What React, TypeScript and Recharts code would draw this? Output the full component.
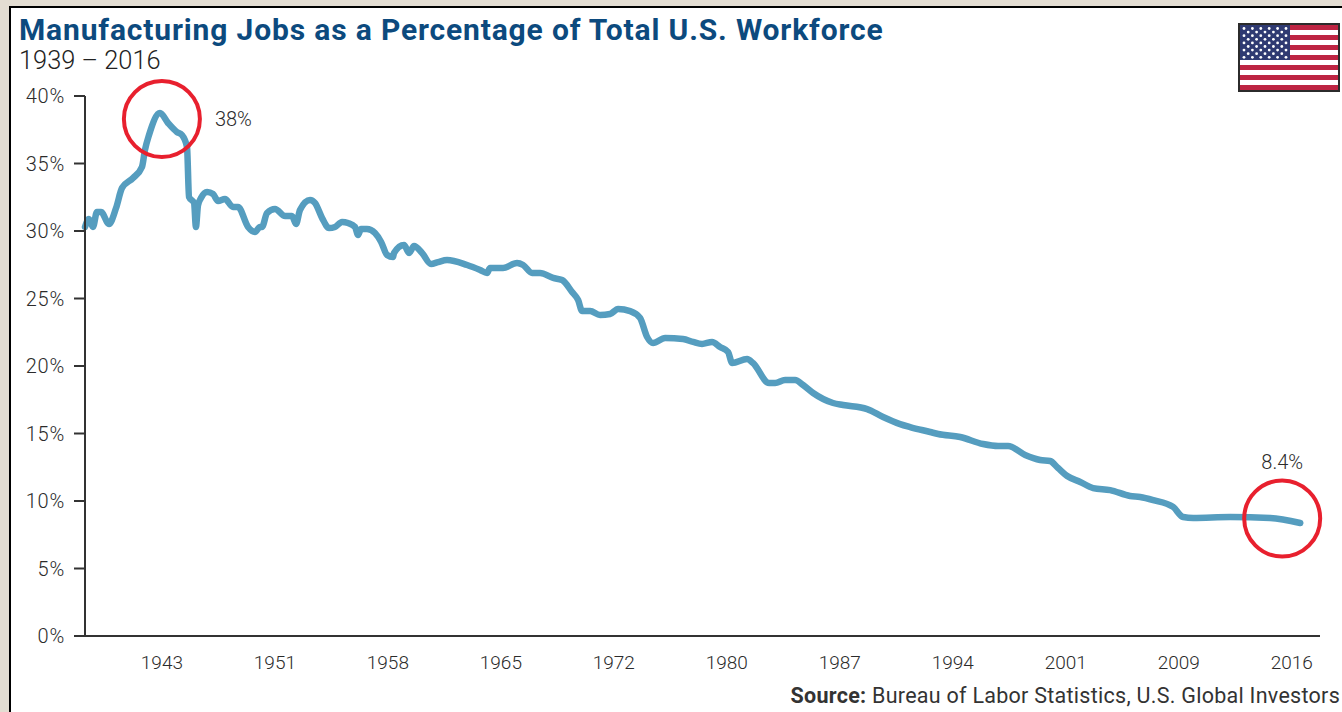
import React from 'react';
import { LineChart, Line, XAxis, YAxis, ReferenceDot, Label } from 'recharts';

// years are decimal
const years = [
  1939.0, 1939.25, 1939.51, 1939.76, 1940.02, 1940.53, 1940.98, 1941.36, 1942.06, 1942.63,
  1942.82, 1943.08, 1943.78, 1944.29, 1944.86, 1945.18, 1945.5, 1945.63, 1945.95, 1946.07,
  1946.2, 1946.39, 1946.78, 1947.16, 1947.48, 1947.92, 1948.43, 1948.75, 1949.39, 1949.83,
  1950.15, 1950.28, 1950.6, 1951.11, 1951.75, 1952.19, 1952.45, 1952.7, 1953.34, 1953.66,
  1954.11, 1954.55, 1954.93, 1955.38, 1955.76, 1956.21, 1956.4, 1956.59, 1956.97, 1957.48,
  1957.87, 1958.25, 1958.63, 1958.69, 1959.33, 1959.65, 1959.97, 1960.48, 1961.05, 1961.5,
  1962.07, 1963.35, 1964.18, 1964.62, 1964.81, 1965.64, 1966.53, 1966.92, 1967.49, 1968.0,
  1968.83, 1969.4, 1970.04, 1970.42, 1970.68, 1971.19, 1971.82, 1972.46, 1972.97, 1973.74,
  1974.37, 1974.82, 1975.2, 1975.97, 1977.11, 1977.75, 1978.32, 1978.96, 1979.47, 1979.98,
  1980.24, 1981.19, 1981.57, 1982.59, 1982.98, 1983.61, 1984.25, 1984.76, 1985.4, 1986.67,
  1987.31, 1988.84, 1989.86, 1990.94, 1991.58, 1992.86, 1993.37, 1994.77, 1996.23, 1997.19,
  1997.83, 1998.91, 1999.87, 2000.5, 2001.01, 2001.59, 2002.42, 2003.24, 2004.33, 2005.6,
  2006.24, 2007.07, 2008.34, 2008.98, 2009.62, 2011.98, 2014.53, 2016.44,
];

const shares = [
  30.3, 30.89, 30.3, 31.41, 31.41, 30.52, 31.7, 33.19, 33.93, 34.74,
  36.0, 37.11, 38.74, 38.0, 37.33, 37.11, 36.22, 32.52, 32.07, 30.3,
  31.9, 32.44, 32.89, 32.74, 32.22, 32.37, 31.78, 31.78, 30.3, 29.93,
  30.3, 30.3, 31.33, 31.63, 31.11, 31.11, 30.52, 31.56, 32.3, 32.07,
  30.96, 30.22, 30.3, 30.67, 30.59, 30.3, 29.7, 30.15, 30.15, 29.85,
  29.19, 28.22, 28.07, 28.37, 28.96, 28.37, 28.89, 28.37, 27.56, 27.7,
  27.85, 27.48, 27.11, 26.89, 27.26, 27.26, 27.63, 27.48, 26.89, 26.89,
  26.52, 26.37, 25.48, 24.89, 24.07, 24.07, 23.78, 23.85, 24.22, 24.07,
  23.56, 22.15, 21.7, 22.07, 22.0, 21.78, 21.63, 21.78, 21.41, 21.04,
  20.22, 20.52, 20.22, 18.74, 18.74, 18.96, 18.96, 18.59, 18.0, 17.26,
  17.11, 16.81, 16.22, 15.7, 15.48, 15.11, 14.96, 14.74, 14.22, 14.07,
  14.07, 13.41, 13.04, 12.96, 12.44, 11.85, 11.41, 10.96, 10.81, 10.37,
  10.3, 10.07, 9.56, 8.81, 8.74, 8.81, 8.74, 8.37,
];

const xTickPositions = [1943.9, 1951.1, 1958.3, 1965.5, 1972.7, 1979.9, 1987.1, 1994.3, 2001.5, 2008.7, 2015.9];
const xTickLabels = ['1943', '1951', '1958', '1965', '1972', '1980', '1987', '1994', '2001', '2009', '2016'];
const yTicks = [0, 5, 10, 15, 20, 25, 30, 35, 40];

const data = years.map((year, i) => ({ year, share: shares[i] }));

const FONT = 'Roboto, sans-serif';
const TICK_STYLE = { fontSize: 19, fill: '#2b2b2b', fontFamily: FONT, fontWeight: 300 };
const Y_TICK_STYLE = { ...TICK_STYLE, fontSize: 20, letterSpacing: 0.8 };
const LABEL_STYLE = { fontSize: 20, fill: '#2b2b2b', fontFamily: FONT, fontWeight: 300 };
const STRIPE_COUNT = 13;
const STAR_ROWS = [0, 1, 2, 3, 4, 5, 6, 7, 8];

const Flag = () => (
  <svg width={102} height={69} style={{ position: 'absolute', left: 1238, top: 23 }}>
    <rect width={102} height={69} fill="#2b2b2b" />
    {Array.from({ length: STRIPE_COUNT }).map((_, i) => (
      <rect
        key={i}
        x={2}
        y={2 + (i * 65) / STRIPE_COUNT}
        width={98}
        height={65 / STRIPE_COUNT}
        fill={i % 2 === 0 ? '#bd2443' : '#ffffff'}
      />
    ))}
    <rect x={2} y={2} width={50} height={35} fill="#2f3a72" />
    {STAR_ROWS.map(row =>
      Array.from({ length: row % 2 === 0 ? 6 : 5 }).map((_, col) => (
        <circle
          key={`${row}-${col}`}
          cx={row % 2 === 0 ? 6 + col * 8.4 : 10.2 + col * 8.4}
          cy={5.5 + row * 3.6}
          r={1.4}
          fill="#ffffff"
        />
      ))
    )}
  </svg>
);

const App = () => (
  <div style={{ position: 'absolute', left: 0, top: 0, width: 1342, height: 712, background: '#e3ddd2', overflow: 'hidden' }}>
    <div
      style={{
        position: 'absolute',
        left: 9,
        top: 6,
        width: 1333,
        height: 706,
        background: '#ffffff',
        borderLeft: '2px solid #000',
        borderTop: '2px solid #000',
        boxSizing: 'border-box',
      }}
    />
    <div
      style={{
        position: 'absolute',
        left: 19,
        top: 12,
        fontFamily: FONT,
        fontWeight: 700,
        fontSize: 30,
        lineHeight: '36px',
        letterSpacing: 0.85,
        color: '#0c4a7e',
        whiteSpace: 'nowrap',
      }}
    >
      Manufacturing Jobs as a Percentage of Total U.S. Workforce
    </div>
    <div
      style={{
        position: 'absolute',
        left: 19,
        top: 44,
        fontFamily: FONT,
        fontWeight: 300,
        fontSize: 25.4,
        lineHeight: '32px',
        color: '#222',
        whiteSpace: 'nowrap',
      }}
    >
      1939 – 2016
    </div>
    <Flag />
    <div style={{ position: 'absolute', left: 0, top: 0 }}>
      <LineChart width={1342} height={712} data={data} margin={{ top: 96, right: 22, left: 0, bottom: 46 }}>
        <XAxis
          dataKey="year"
          type="number"
          domain={[1939, 2017.7]}
          ticks={xTickPositions}
          interval={0}
          tickLine={false}
          tickMargin={14}
          height={30}
          tick={TICK_STYLE}
          tickFormatter={(_v: number, i: number) => xTickLabels[i]}
          axisLine={{ stroke: '#333', strokeWidth: 2 }}
        />
        <YAxis
          type="number"
          width={85}
          domain={[0, 40]}
          ticks={yTicks}
          interval={0}
          tickSize={11}
          tickMargin={9}
          tick={Y_TICK_STYLE}
          tickFormatter={(v: number) => `${v}%`}
          axisLine={{ stroke: '#333', strokeWidth: 2 }}
          tickLine={{ stroke: '#333', strokeWidth: 2 }}
        />
        <Line
          dataKey="share"
          type="monotone"
          stroke="#559dbf"
          strokeWidth={6.5}
          strokeLinejoin="round"
          strokeLinecap="round"
          dot={false}
          isAnimationActive={false}
        />
        <ReferenceDot x={1943.9} y={38.3} r={38} fill="none" stroke="#e8202e" strokeWidth={4} ifOverflow="visible">
          <Label value="38%" position="right" offset={15} fill="#2b2b2b" style={LABEL_STYLE} />
        </ReferenceDot>
        <ReferenceDot x={2015.29} y={8.7} r={38} fill="none" stroke="#e8202e" strokeWidth={4} ifOverflow="visible">
          <Label value="8.4%" position="top" offset={12} fill="#2b2b2b" style={LABEL_STYLE} />
        </ReferenceDot>
      </LineChart>
    </div>
    <div
      style={{
        position: 'absolute',
        right: 2,
        top: 684,
        fontFamily: FONT,
        fontSize: 21.5,
        lineHeight: '24px',
        letterSpacing: 0.27,
        color: '#333',
        whiteSpace: 'nowrap',
      }}
    >
      <b>Source:</b> Bureau of Labor Statistics, U.S. Global Investors
    </div>
  </div>
);

export default App;
